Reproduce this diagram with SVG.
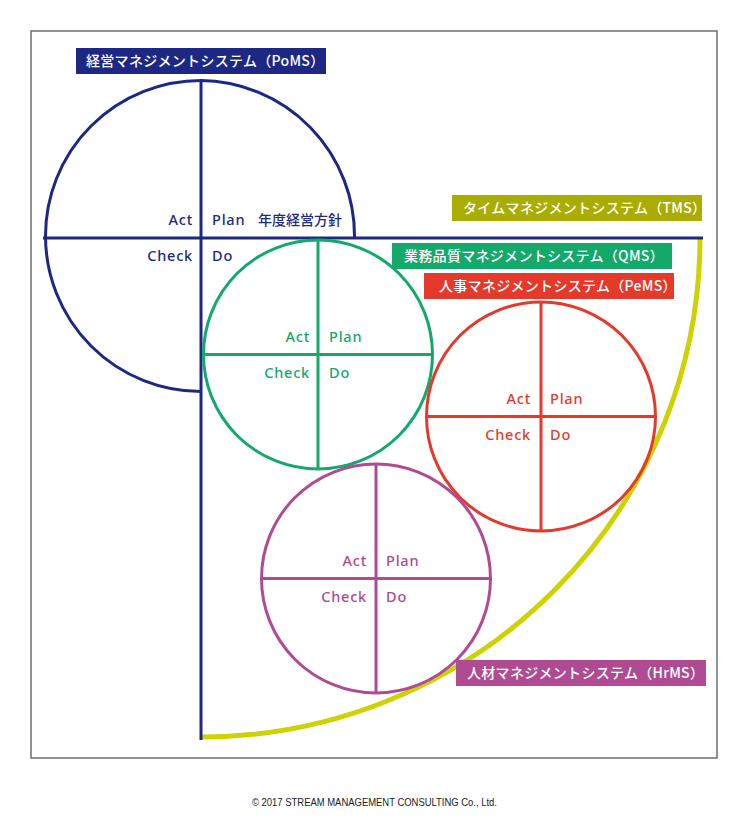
<svg xmlns="http://www.w3.org/2000/svg" width="750" height="830" viewBox="0 0 750 830">
<style>
.frame{fill:none;stroke:#6e6e6e;stroke-width:1.5}
.ln{fill:none;stroke-width:3}
.pdca{font-family:"Noto Sans","Open Sans",sans-serif;font-size:14.5px;font-weight:500;letter-spacing:0.8px}
.lab{font-family:"Noto Sans CJK JP","Noto Sans",sans-serif;font-size:14px;font-weight:500;fill:#fff;letter-spacing:0.3px}
.navy{stroke:#1d2885}.navyt{fill:#1d2885}
.green{stroke:#12a96a}.greent{fill:#12a96a}
.red{stroke:#e5392b}.redt{fill:#e5392b}
.purple{stroke:#b04a92}.purplet{fill:#b04a92}
.end{text-anchor:end}
</style>
<rect class="frame" x="31" y="31" width="686" height="727"/>
<g id="connectors">
<path id="tms-arc" d="M700,238 A499,499 0 0 1 201,737" fill="none" stroke="#cdd200" stroke-width="5"/>
<line class="ln navy" x1="43" y1="238" x2="703" y2="238"/>
<line class="ln navy" x1="201" y1="80" x2="201" y2="740"/>
</g>
<g id="poms">
<path class="ln navy" d="M354.5,238 A155.5,155.5 0 0 0 201,80.5 A155.5,155.5 0 1 0 201,391.5"/>
<text class="pdca navyt end" x="193" y="225">Act</text>
<text class="pdca navyt" x="212" y="225">Plan</text>
<text x="258" y="225" font-family="Noto Sans CJK JP,sans-serif" font-size="14" font-weight="500" fill="#1d2885">年度経営方針</text>
<text class="pdca navyt end" x="193" y="261">Check</text>
<text class="pdca navyt" x="212" y="261">Do</text>
<rect x="76" y="48" width="250" height="26" fill="#1d2885"/>
<text class="lab" x="86" y="66">経営マネジメントシステム（PoMS）</text>
</g>
<g id="tms">
<rect x="452" y="195" width="250" height="26" fill="#a9ad00"/>
<text class="lab" x="463" y="213">タイムマネジメントシステム（TMS）</text>
</g>
<g id="qms">
<circle class="ln green" cx="318" cy="354.5" r="114.5"/>
<line class="ln green" x1="318" y1="240" x2="318" y2="469"/>
<line class="ln green" x1="203.5" y1="354.5" x2="432.5" y2="354.5"/>
<text class="pdca greent end" x="310" y="342">Act</text>
<text class="pdca greent" x="329" y="342">Plan</text>
<text class="pdca greent end" x="310" y="378">Check</text>
<text class="pdca greent" x="329" y="378">Do</text>
<rect x="392" y="243" width="280" height="26" fill="#12a96a"/>
<text class="lab" x="404" y="261">業務品質マネジメントシステム（QMS）</text>
</g>
<g id="pems">
<circle class="ln red" cx="541" cy="416.5" r="114.5"/>
<line class="ln red" x1="541" y1="302" x2="541" y2="531"/>
<line class="ln red" x1="426.5" y1="416.5" x2="655.5" y2="416.5"/>
<text class="pdca redt end" x="531" y="404">Act</text>
<text class="pdca redt" x="550" y="404">Plan</text>
<text class="pdca redt end" x="531" y="440">Check</text>
<text class="pdca redt" x="550" y="440">Do</text>
<rect x="424" y="273" width="250" height="26" fill="#e5392b"/>
<text class="lab" x="439" y="291">人事マネジメントシステム（PeMS）</text>
</g>
<g id="hrms">
<circle class="ln purple" cx="376" cy="578.5" r="114.5"/>
<line class="ln purple" x1="376" y1="464" x2="376" y2="693"/>
<line class="ln purple" x1="261.5" y1="578.5" x2="490.5" y2="578.5"/>
<text class="pdca purplet end" x="367" y="566">Act</text>
<text class="pdca purplet" x="386" y="566">Plan</text>
<text class="pdca purplet end" x="367" y="602">Check</text>
<text class="pdca purplet" x="386" y="602">Do</text>
<rect x="456" y="660" width="250" height="26" fill="#b04a92"/>
<text class="lab" x="467" y="678">人材マネジメントシステム（HrMS）</text>
</g>
<text x="252" y="806" font-family="Liberation Sans,sans-serif" font-size="10.5" fill="#222" textLength="245" lengthAdjust="spacingAndGlyphs">© 2017 STREAM MANAGEMENT CONSULTING Co., Ltd.</text>
</svg>
